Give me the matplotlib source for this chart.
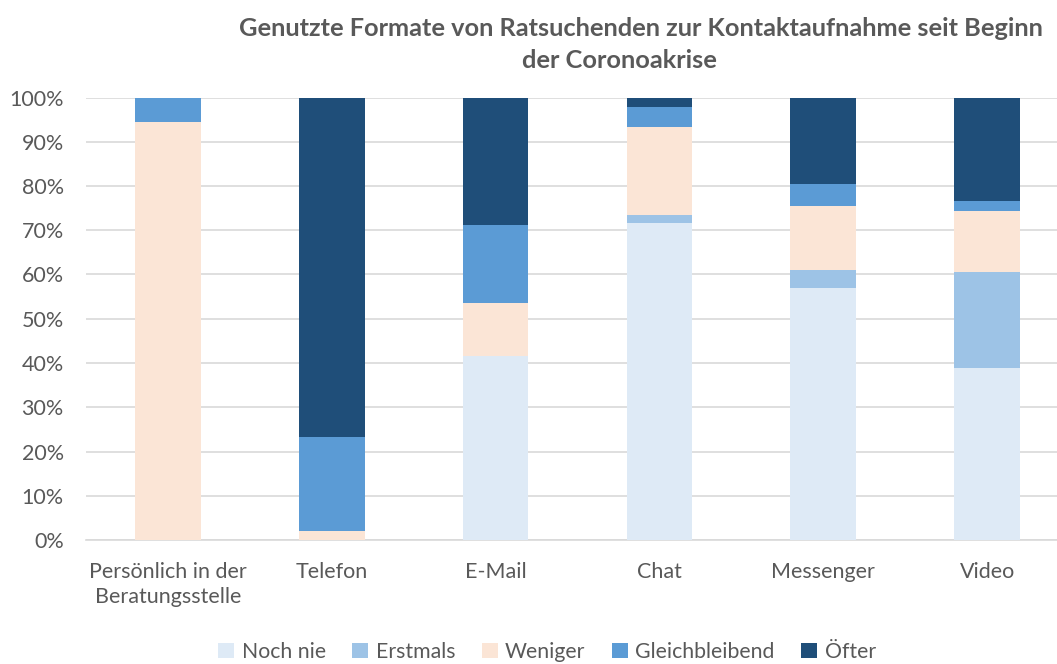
import numpy as np
import matplotlib.pyplot as plt
from matplotlib.ticker import PercentFormatter

kategorien = ["Persönlich in der\nBeratungsstelle", "Telefon", "E-Mail", "Chat", "Messenger", "Video"]
serien = ["Noch nie", "Erstmals", "Weniger", "Gleichbleibend", "Öfter"]
farben = ["#DEEAF6", "#9DC3E6", "#FBE5D6", "#5B9BD5", "#1F4E79"]

noch_nie = [0.0, 0.0, 41.6, 71.7, 57.0, 38.9]
erstmals = [0.0, 0.0, 0.0, 1.7, 4.0, 21.7]
weniger = [94.5, 2.1, 11.9, 19.9, 14.5, 13.8]
gleichbleibend = [5.5, 21.2, 17.7, 4.5, 5.0, 2.2]
oefter = [0.0, 76.7, 28.8, 2.2, 19.5, 23.4]

werte = [noch_nie, erstmals, weniger, gleichbleibend, oefter]

plt.rcParams['font.family'] = ['Lato', 'DejaVu Sans']

fig = plt.figure(figsize=(10.57, 6.64), dpi=100)
ax = fig.add_axes([86/1057, 124/664, 1 - 86/1057 + 12/1057, (540-97.5)/664])

x = np.arange(len(kategorien))
unten = np.zeros(len(kategorien))
for name, farbe, w in zip(serien, farben, werte):
    w = np.array(w) / 100
    ax.bar(x, w, width=0.4, bottom=unten, color=farbe, label=name, zorder=3)
    unten += w

ax.set_ylim(0, 1)
ax.set_xlim(-0.5, 5.5)
ax.set_yticks(np.arange(0, 1.01, 0.1))
ax.yaxis.set_major_formatter(PercentFormatter(1.0, decimals=0))
ax.set_xticks(x)
ax.set_xticklabels(kategorien, linespacing=1.3)
ax.grid(axis='y', color='#D9D9D9', linewidth=1.2, zorder=0)
for s in ['top', 'right', 'left']:
    ax.spines[s].set_visible(False)
ax.spines['bottom'].set_color('#D9D9D9')
ax.spines['bottom'].set_linewidth(1.2)
ax.tick_params(axis='both', length=0, labelsize=15.5, colors='#595959')
ax.tick_params(axis='x', pad=16)
ax.tick_params(axis='y', pad=16)

# Titel in zwei Zeilen, wie im Original leicht versetzt zentriert
fig.text(641/1057, 1 - 28/664, "Genutzte Formate von Ratsuchenden zur Kontaktaufnahme seit Beginn",
         ha='center', va='center', fontsize=18.3, fontweight='bold', color='#595959')
fig.text(619/1057, 1 - 60/664, "der Coronoakrise",
         ha='center', va='center', fontsize=18.3, fontweight='bold', color='#595959')

fig.legend(loc='center', bbox_to_anchor=(547/1057, 1 - 652/664), ncol=5, frameon=False,
           fontsize=15.3, labelcolor='#595959', handlelength=0.75, handleheight=0.75,
           handletextpad=0.35, columnspacing=1.25)

fig.savefig("out.png", dpi=100)
